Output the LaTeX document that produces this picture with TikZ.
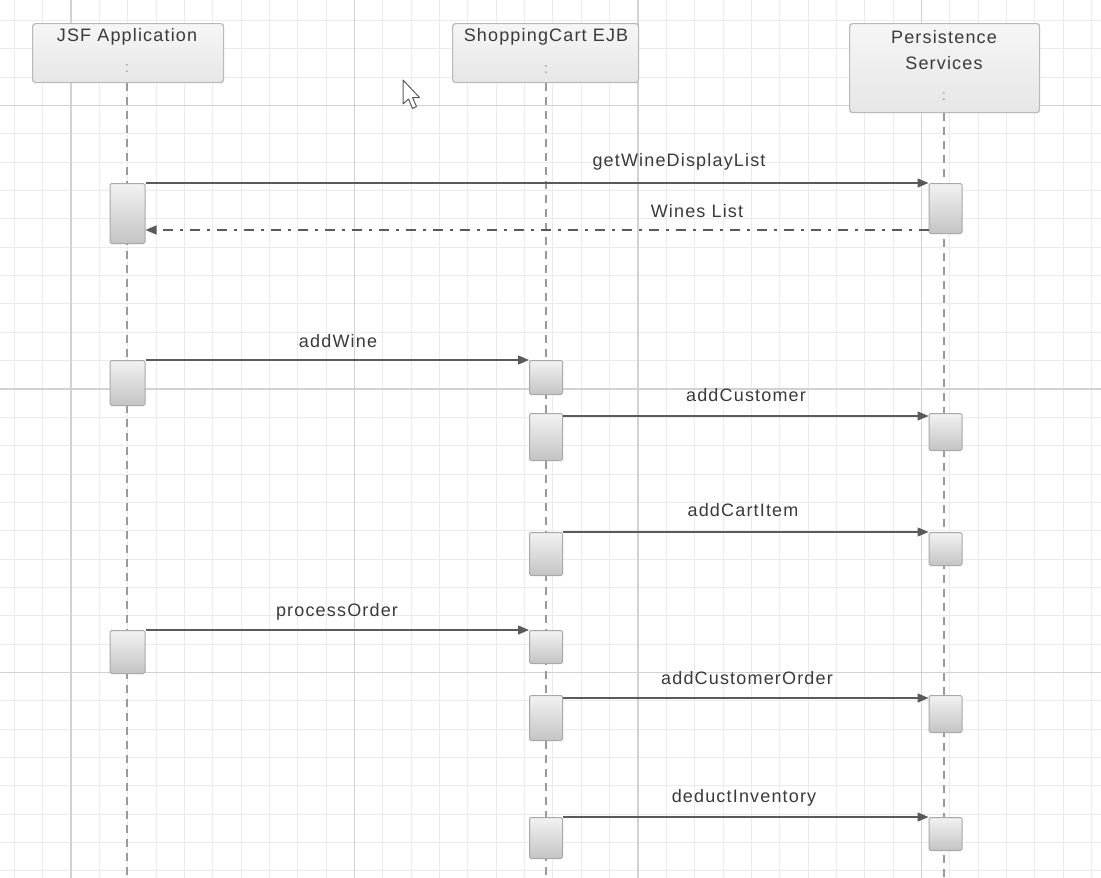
\documentclass[tikz,border=0pt]{standalone}
\usepackage{fontspec}
\setmainfont[LetterSpace=6.5]{Liberation Sans}
\usetikzlibrary{arrows.meta,calc}
\definecolor{gridminor}{HTML}{EBEBEB}
\definecolor{gridmajor}{HTML}{D2D2D2}
\definecolor{headborder}{HTML}{B8B8B8}
\definecolor{headtop}{HTML}{F6F6F6}
\definecolor{headbot}{HTML}{E6E6E6}
\definecolor{actborder}{HTML}{A8A8A8}
\definecolor{acttop}{HTML}{F2F2F2}
\definecolor{actbot}{HTML}{C4C4C4}
\definecolor{lifec}{HTML}{9A9A9A}
\definecolor{arrowc}{HTML}{5A5A5A}
\definecolor{textc}{HTML}{3A3A3A}
\begin{document}
\begin{tikzpicture}[x=1pt,y=-1pt,
  minorline/.style={draw=gridminor, line width=1pt},
  majorline/.style={draw=gridmajor, line width=1.2pt},
  headbox/.style={draw=headborder, line width=1.2pt, top color=headtop, bottom color=headbot, rounded corners=3pt, inner sep=0pt, anchor=north west},
  lbl/.style={font=\fontsize{18}{21}\selectfont, text=textc, inner sep=0pt},
  colonmark/.style={font=\fontsize{15}{16}\selectfont, text=lifec, inner sep=0pt},
  life/.style={draw=lifec, line width=1.2pt, dash pattern=on 8pt off 6pt},
  act/.style={draw=actborder, line width=1pt, top color=acttop, bottom color=actbot, rounded corners=1.5pt, minimum width=33pt, inner sep=0pt, anchor=north},
  msg/.style={draw=arrowc, line width=1.3pt, -{Triangle[length=11pt,width=9pt]}},
  ret/.style={draw=arrowc, line width=1.3pt, dash pattern=on 10pt off 7pt on 3pt off 7pt, -{Triangle[length=11pt,width=9pt]}}
]
\useasboundingbox (0,0) rectangle (1101,878);
\fill[white] (0,0) rectangle (1101,878);
% grid
\foreach \i in {-2,...,36} {\draw[minorline] ({71+28.35*\i},0) -- ({71+28.35*\i},878);}
\foreach \i in {-3,...,27} {\draw[minorline] (0,{105.5+28.35*\i}) -- (1101,{105.5+28.35*\i});}
\foreach \i in {0,1,2,3} {\draw[majorline] ({71+283.5*\i},0) -- ({71+283.5*\i},878);}
\foreach \i in {0,1,2} {\draw[majorline] (0,{105.5+283.5*\i}) -- (1101,{105.5+283.5*\i});}

% heads
\node[headbox, minimum width=191pt, minimum height=59pt] (jsf) at (32,23) {};
\node[headbox, minimum width=186pt, minimum height=59pt] (cart) at (452,23) {};
\node[headbox, minimum width=190pt, minimum height=89pt] (pers) at (849,23) {};
\node[lbl] (jsft) at (127,37) {JSF Application};
\node[lbl] (cartt) at (546,37) {ShoppingCart EJB};
\node[lbl, align=center] (perst) at (944,50.5) {Persistence\\[5pt]Services};
\node[colonmark] (jsfc) at (127,69) {:};
\node[colonmark] (cartc) at (546,70) {:};
\node[colonmark] (persc) at (944,97) {:};

% lifelines
\coordinate (jsfend) at (127,878);
\coordinate (cartend) at (546,878);
\coordinate (persend) at (944,878);
\draw[life] (jsf.south -| jsfend) -- (jsfend);
\draw[life] (cart.south -| cartend) -- (cartend);
\draw[life] (pers.south -| persend) -- (persend);

% activations
\node[act, minimum width=35pt, minimum height=60pt] (a1) at (127.5,183) {};
\node[act, minimum height=50pt] (p1) at (945.5,183) {};
\node[act, minimum width=35pt, minimum height=45pt] (a2) at (127.5,360) {};
\node[act, minimum height=34pt] (c2) at (546,360) {};
\node[act, minimum height=47pt] (c3) at (546,413) {};
\node[act, minimum height=37pt] (p3) at (945.5,413) {};
\node[act, minimum height=43pt] (c4) at (546,532) {};
\node[act, minimum height=33pt] (p4) at (945.5,532) {};
\node[act, minimum width=35pt, minimum height=43pt] (a5) at (127.5,630) {};
\node[act, minimum height=33pt] (c5) at (546,630) {};
\node[act, minimum height=45pt] (c6) at (546,695) {};
\node[act, minimum height=37pt] (p6) at (945.5,695) {};
\node[act, minimum height=41pt] (c7) at (546,817) {};
\node[act, minimum height=33pt] (p7) at (945.5,817) {};

% messages
\draw[msg] (a1.north east) -- (p1.north west);
\coordinate (r1) at (0,230);
\draw[ret] (p1.west |- r1) -- (a1.east |- r1);
\draw[msg] (a2.north east) -- (c2.north west);
\draw[msg] ($(c3.north east)+(0,3)$) -- ($(p3.north west)+(0,3)$);
\draw[msg] (c4.north east) -- (p4.north west);
\draw[msg] (a5.north east) -- (c5.north west);
\draw[msg] ($(c6.north east)+(0,3)$) -- ($(p6.north west)+(0,3)$);
\draw[msg] (c7.north east) -- (p7.north west);

% labels
\node[lbl] (m1) at (679,162) {getWineDisplayList};
\node[lbl] (m1r) at (697,211) {Wines List};
\node[lbl] (m2) at (338,341) {addWine};
\node[lbl] (m3) at (746,395) {addCustomer};
\node[lbl] (m4) at (743,510) {addCartItem};
\node[lbl] (m5) at (337,612) {processOrder};
\node[lbl] (m6) at (747,678) {addCustomerOrder};
\node[lbl] (m7) at (744,798) {deductInventory};

% mouse cursor
\draw[draw=arrowc, fill=white, line width=1pt, line join=round]
  (403,80) -- (403,104) -- (408.5,99) -- (412.5,108.5) -- (416.5,106.5) -- (412.5,97.5) -- (419.5,97.5) -- cycle;
\end{tikzpicture}
\end{document}
